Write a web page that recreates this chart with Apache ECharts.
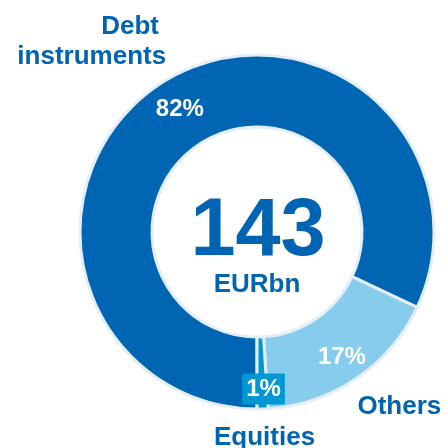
<!DOCTYPE html>
<html>
<head>
<meta charset="utf-8">
<script src="https://cdn.jsdelivr.net/npm/echarts@6/dist/echarts.min.js"></script>
<style>
  html, body { margin: 0; padding: 0; background: #fff; }
  #donut { width: 447px; height: 448px; }
</style>
</head>
<body>
<div id="donut"></div>
<script>
  // slices go clockwise from 6 o'clock
  var names = ['Debt \ninstruments', 'Others', 'Equities'];
  var shares = [82, 17, 1];
  var colors = ['#0066b3', '#87ccec', '#0097d7'];
  var total = '143';
  var unit = 'EURbn';

  var font = 'Arial, "Liberation Sans", sans-serif';
  var blue = '#0064b2';

  // nudges for the labels
  var pctShift = [[0, -1], [4, 6], [2, 13]];
  var nameShift = [[9, -41], [-4, 28], [-3, 29]];

  var pieData = shares.map(function (v, i) {
    return { value: v, name: names[i], itemStyle: { color: colors[i] } };
  });

  var nameData = shares.map(function (v, i) {
    return { value: v, name: names[i] };
  });

  var chart = echarts.init(document.getElementById('donut'));
  chart.setOption({
    animation: false,
    graphic: [
      {
        type: 'text', x: 258, y: 233,
        style: { text: total, font: 'bold 81px ' + font, fill: blue, align: 'center', verticalAlign: 'middle' }
      },
      {
        type: 'text', x: 257, y: 285,
        style: { text: unit, font: 'bold 26px ' + font, fill: blue, align: 'center', verticalAlign: 'middle' }
      }
    ],
    series: [
      {
        type: 'pie',
        center: [257, 232],
        radius: [105, 177],
        startAngle: -90,
        clockwise: true,
        silent: true,
        avoidLabelOverlap: false,
        itemStyle: { borderColor: '#e4eef8', borderWidth: 3 },
        label: {
          show: true,
          position: 'inside',
          formatter: '{c}%',
          color: '#fff',
          fontFamily: font,
          fontWeight: 'bold',
          fontSize: 24
        },
        labelLine: { show: false },
        data: pieData.map(function (d, i) {
          if (i === 2) {
            d.label = { backgroundColor: '#0097d5', padding: [4, 4, 3, 4] };
          }
          return d;
        }),
        labelLayout: function (p) {
          var s = pctShift[p.dataIndex];
          return { dx: s[0], dy: s[1] };
        }
      },
      {
        type: 'pie',
        center: [257, 232],
        radius: [105, 177],
        startAngle: -90,
        clockwise: true,
        silent: true,
        avoidLabelOverlap: false,
        itemStyle: { color: 'rgba(0,0,0,0)' },
        label: {
          show: true,
          position: 'outside',
          formatter: '{b}',
          color: blue,
          fontFamily: font,
          fontWeight: 'bold',
          fontSize: 26,
          lineHeight: 30,
          overflow: 'none'
        },
        labelLine: { show: false, length: 0, length2: 0 },
        data: nameData,
        labelLayout: function (p) {
          var s = nameShift[p.dataIndex];
          var out = { dx: s[0], dy: s[1] };
          if (p.dataIndex === 2) out.align = 'center';
          return out;
        }
      }
    ]
  });
</script>
</body>
</html>
